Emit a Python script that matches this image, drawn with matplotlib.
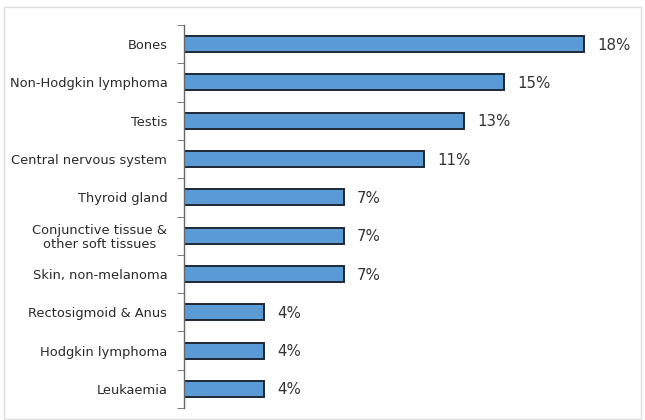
import matplotlib.pyplot as plt
import matplotlib.patches as mpatches
import numpy as np

plt.rcParams['font.family'] = ['DejaVu Sans']

# categories, top to bottom
categories = ['Bones', 'Non-Hodgkin lymphoma', 'Testis', 'Central nervous system',
              'Thyroid gland', 'Conjunctive tissue &\nother soft tissues',
              'Skin, non-melanoma', 'Rectosigmoid & Anus', 'Hodgkin lymphoma', 'Leukaemia']
# bar lengths as drawn in the picture
bar_len = [20, 16, 14, 12, 8, 8, 8, 4, 4, 4]
# printed labels
pct = [18, 15, 13, 11, 7, 7, 7, 4, 4, 4]

fig = plt.figure(figsize=(6.45, 4.20), dpi=100)

# light grey frame round the picture
fig.patches.append(mpatches.Rectangle((4 / 645, 0.002), 637 / 645, 1 - 7 / 420 - 0.002,
                                      transform=fig.transFigure, fill=False,
                                      edgecolor='#dddddd', linewidth=1))

ax = fig.add_axes([184 / 645, 1 - 408 / 420, 440 / 645, 383 / 420])

y = np.arange(len(categories))
ax.barh(y, bar_len, height=0.42, color='#5B9BD5', edgecolor='#1E2836', linewidth=1.4)

for yi, v, p in zip(y, bar_len, pct):
    ax.text(v + 0.65, yi + 0.03, f'{p}%', va='center', ha='left', fontsize=10.8,
            color='#333333')

ax.set_xlim(0, 22)
ax.set_ylim(len(categories) - 0.5, -0.5)

ax.set_yticks(y)
ax.set_yticklabels(categories, fontsize=9.4, color='#2a2a2a', linespacing=1.05,
                   multialignment='center')
ax.set_yticks(np.arange(-0.5, len(categories), 1), minor=True)
ax.tick_params(axis='y', which='major', length=0, pad=12)
ax.tick_params(axis='y', which='minor', length=5, color='#666666', direction='out')
ax.set_xticks([])

for s in ['top', 'right', 'bottom']:
    ax.spines[s].set_visible(False)
ax.spines['left'].set_color('#666666')
ax.spines['left'].set_linewidth(1)

fig.savefig('out.png', dpi=100)
